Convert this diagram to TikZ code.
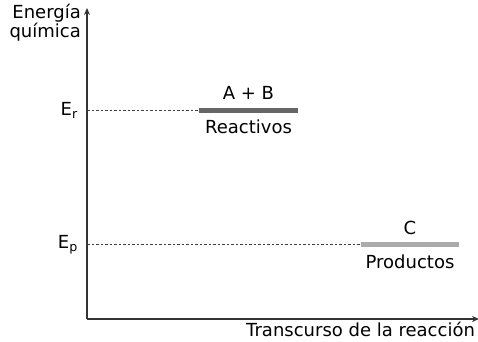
\documentclass[tikz,border=0pt]{standalone}
\usepackage{fontspec}
\setmainfont{DejaVu Sans}
\usetikzlibrary{arrows.meta, positioning}

\begin{document}
\begin{tikzpicture}[x=1pt, y=-1pt, >={Stealth[length=7pt, width=6pt]},
    font=\fontsize{18}{16}\selectfont, inner sep=0pt,
    axis/.style={draw=black!80, line width=2pt},
    guide/.style={draw=black!75, line width=0.8pt, dash pattern=on 2.5pt off 2pt},
    reactlevel/.style={draw=black!60, line width=5pt},
    prodlevel/.style={draw=black!33, line width=5pt}]
    \useasboundingbox (0,0) rectangle (478,341);

    \coordinate (o) at (87,319);
    \coordinate (ytop) at (87,8);
    \coordinate (xend) at (479,319);
    \coordinate (er) at (87,110.5);
    \coordinate (ep) at (87,244.5);
    \coordinate (r1) at (199,110.5);
    \coordinate (r2) at (298,110.5);
    \coordinate (p1) at (361,244.5);
    \coordinate (p2) at (459,244.5);

    % ejes
    \draw[axis, ->] (o) -- (ytop);
    \draw[axis, ->] (o) -- (xend);
    \node[align=right, anchor=north east] (ylabel) at (81,4) {Energía\\química};
    \node[anchor=base west] (xlabel) at (246,336) {Transcurso de la reacción};

    % niveles de energia
    \node (Er) [left=9pt of er] {E\textsubscript{r}};
    \node (Ep) [left=9pt of ep] {E\textsubscript{p}};
    \draw[guide] (er) -- (r1);
    \draw[guide] (ep) -- (p1);

    \draw[reactlevel] (r1) -- node[above=8.5pt] (ab) {A + B}
        node[below=6.5pt] (reac) {Reactivos} (r2);
    \draw[prodlevel] (p1) -- node[above=7.5pt] (c) {C}
        node[below=8pt] (prod) {Productos} (p2);

\end{tikzpicture}
\end{document}
